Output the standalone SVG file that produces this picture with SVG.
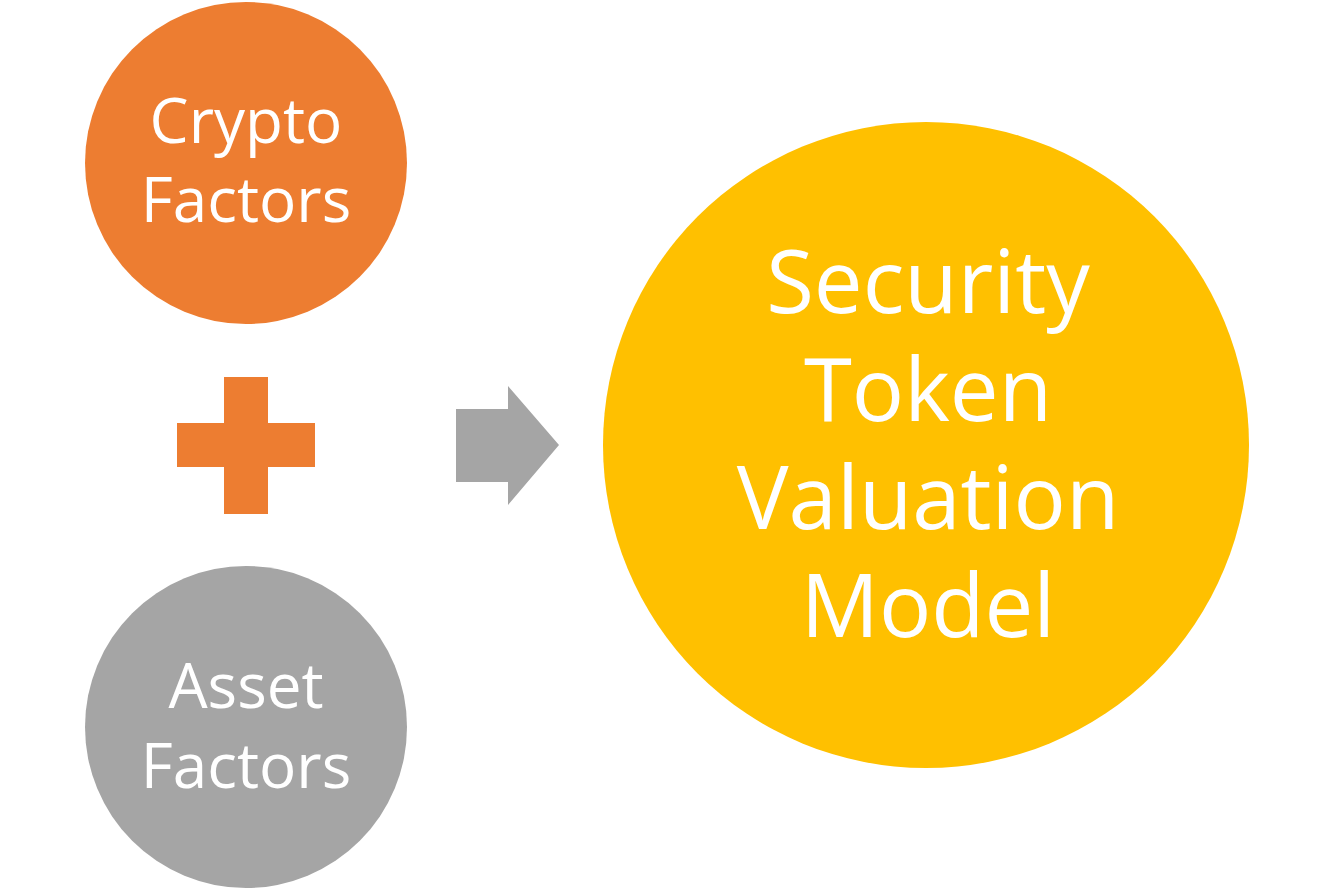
<svg xmlns="http://www.w3.org/2000/svg" width="1334" height="891" viewBox="0 0 1334 891">
<style>
.lbl{font-family:"Open Sans","Noto Sans",sans-serif;fill:#FFFFFF;text-anchor:middle}
.sm{font-size:62px}
.lg{font-size:87px}
</style>
<rect width="1334" height="891" fill="#FFFFFF"/>
<g id="crypto">
<circle cx="246" cy="163" r="161" fill="#ED7D31"/>
<text class="lbl sm" x="246" y="143">Crypto</text>
<text class="lbl sm" x="246" y="222">Factors</text>
</g>
<g id="plus">
<rect x="224" y="377" width="44" height="137" fill="#ED7D31"/>
<rect x="177" y="423" width="138" height="44" fill="#ED7D31"/>
</g>
<g id="asset">
<circle cx="246" cy="727" r="161" fill="#A5A5A5"/>
<text class="lbl sm" x="246" y="708">Asset</text>
<text class="lbl sm" x="246" y="788">Factors</text>
</g>
<g id="connectors">
<polygon points="456,409 508,409 508,386 559,445 508,505 508,482 456,482" fill="#A5A5A5"/>
</g>
<g id="model">
<circle cx="926" cy="445" r="323" fill="#FFC000"/>
<text class="lbl lg" x="928" y="313">Security</text>
<text class="lbl lg" x="928" y="421">Token</text>
<text class="lbl lg" x="928" y="529">Valuation</text>
<text class="lbl lg" x="928" y="637">Model</text>
</g>
</svg>
